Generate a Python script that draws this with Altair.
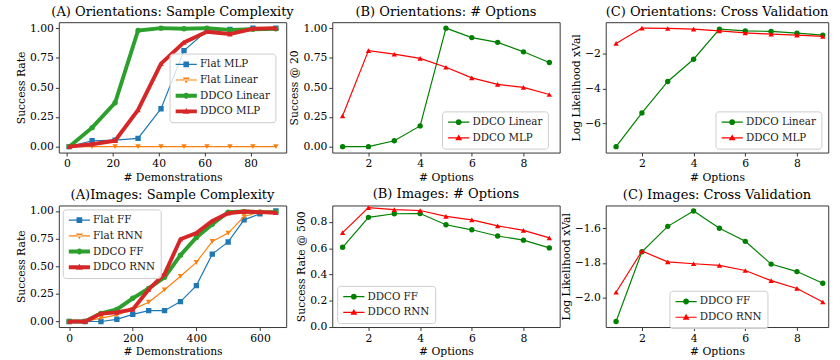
import altair as alt
import pandas as pd

FONT = "DejaVu Serif"

# ---------------- data ----------------
# (A) Orientations: sample complexity
demos_orient = [1, 11, 21, 31, 41, 51, 61, 71, 81, 91]
orient_flat_mlp = [0.0, 0.05, 0.055, 0.07, 0.32, 0.81, 0.98, 0.99, 1.0, 1.0]
orient_flat_linear = [0.0, 0.0, 0.0, 0.0, 0.0, 0.0, 0.0, 0.0, 0.0, 0.0]
orient_ddco_linear = [0.0, 0.16, 0.37, 0.98, 1.0, 0.995, 1.0, 0.985, 0.99, 0.995]
orient_ddco_mlp = [0.0, 0.02, 0.05, 0.31, 0.70, 0.88, 0.97, 0.95, 0.995, 1.0]

# (B)/(C) number of options
n_options = [1, 2, 3, 4, 5, 6, 7, 8, 9]
orient_opt_linear = [0.0, 0.0, 0.05, 0.175, 1.0, 0.92, 0.88, 0.80, 0.71]
orient_opt_mlp = [0.26, 0.81, 0.78, 0.745, 0.67, 0.58, 0.525, 0.50, 0.44]
orient_xval_linear = [-7.33, -5.39, -3.58, -2.30, -0.57, -0.67, -0.70, -0.80, -0.91]
orient_xval_mlp = [-1.39, -0.51, -0.53, -0.57, -0.67, -0.78, -0.86, -0.91, -0.99]

# (A) Images: sample complexity
demos_images = [0, 50, 100, 150, 200, 250, 300, 350, 400, 450, 500, 550, 600, 650]
img_flat_ff = [0.0, 0.0, 0.0, 0.02, 0.065, 0.098, 0.098, 0.18, 0.325, 0.61, 0.72, 0.92, 0.975, 1.0]
img_flat_rnn = [0.0, 0.0, 0.03, 0.06, 0.11, 0.175, 0.287, 0.41, 0.535, 0.725, 0.80, 0.95, 0.99, 0.985]
img_ddco_ff = [0.0, 0.0, 0.074, 0.11, 0.21, 0.30, 0.40, 0.60, 0.76, 0.88, 0.99, 0.995, 0.99, 0.99]
img_ddco_rnn = [0.0, 0.0, 0.072, 0.083, 0.11, 0.29, 0.43, 0.745, 0.80, 0.91, 0.98, 0.995, 0.99, 0.985]

img_opt_ff = [0.607, 0.835, 0.862, 0.864, 0.778, 0.74, 0.693, 0.661, 0.602]
img_opt_rnn = [0.718, 0.909, 0.894, 0.887, 0.842, 0.815, 0.77, 0.736, 0.679]
img_xval_ff = [-2.136, -1.735, -1.589, -1.501, -1.60, -1.675, -1.806, -1.849, -1.916]
img_xval_rnn = [-1.968, -1.731, -1.793, -1.804, -1.813, -1.843, -1.901, -1.946, -2.024]

# ---------------- styles ----------------
TAB_BLUE, TAB_ORANGE, TAB_GREEN, TAB_RED = "#1f77b4", "#ff7f0e", "#2ca02c", "#d62728"
GREEN, RED = "#008000", "#ff0000"

# legend glyph = filled line segment + marker (unit box: 1 unit = 6 px)
MARKER_PATH = {
    "circle": "M0.5,0A0.5,0.5,0,1,1,1.5,0A0.5,0.5,0,1,1,0.5,0Z",
    "triangle-up": "M1,-0.58L1.58,0.42L0.42,0.42Z",
    "triangle-down": "M1,0.58L1.58,-0.42L0.42,-0.42Z",
    "square": "M0.52,-0.48H1.48V0.48H0.52Z",
}


def legend_glyph(shape, line_px):
    hw = line_px / 12.0
    return f"M-0.8,{-hw:.3f}H2.8V{hw:.3f}H-0.8Z" + MARKER_PATH[shape]


def panel(title, xs, series, xdom, ydom, xticks, yticks, yfmt, xtitle, ytitle,
          w, h, lx, ly):
    xenc = alt.X("x:Q", scale=alt.Scale(domain=xdom, nice=False, zero=False),
                 axis=alt.Axis(values=xticks, title=xtitle, format="d"))
    yenc = alt.Y("y:Q", scale=alt.Scale(domain=ydom, nice=False, zero=False),
                 axis=alt.Axis(values=yticks, title=ytitle, format=yfmt))
    layers, frames = [], []
    names, colors, paths = [], [], []
    for name, vals, color, shape, sw in series:
        df = pd.DataFrame({"x": xs, "y": vals, "series": name})
        frames.append(df)
        names.append(name)
        colors.append(color)
        paths.append(legend_glyph(shape, sw))
        base = alt.Chart(df).encode(x=xenc, y=yenc)
        layers.append(base.mark_line(color=color, strokeWidth=sw, clip=True))
        layers.append(base.mark_point(shape=shape, filled=True, color=color,
                                      size=30, opacity=1, clip=True))
    leg = alt.Legend(title=None, orient="none", legendX=lx, legendY=ly,
                     fillColor="rgba(255,255,255,0.8)", strokeColor="#cccccc",
                     cornerRadius=3, padding=5, labelFont=FONT, labelFontSize=10.5,
                     labelFontWeight=400, labelColor="#1a1a1a",
                     symbolSize=144, symbolOpacity=1,
                     symbolStrokeWidth=0, labelOffset=14, rowPadding=4)
    legend_layer = alt.Chart(pd.concat(frames)).mark_point(
        filled=True, opacity=0, size=144).encode(
        x=xenc, y=yenc,
        fill=alt.Fill("series:N", scale=alt.Scale(domain=names, range=colors), legend=leg),
        shape=alt.Shape("series:N", scale=alt.Scale(domain=names, range=paths), legend=leg),
    )
    return alt.layer(*layers, legend_layer).properties(
        width=w, height=h, title=alt.Title(title))


W, WC = 232, 227
H_TOP, H_BOT = 133, 124
OPT_DOM = [0.6, 9.4]
OPT_DOM_C = [0.6, 0.6 + 8.8 * WC / W]
RATE_DOM = [-0.05, 1.05]
RATE_TICKS = [0, 0.25, 0.5, 0.75, 1.0]
OPT_TICKS = [2, 4, 6, 8]

a1 = panel("(A) Orientations: Sample Complexity", demos_orient, [
    ("Flat MLP", orient_flat_mlp, TAB_BLUE, "square", 1.2),
    ("Flat Linear", orient_flat_linear, TAB_ORANGE, "triangle-down", 1.2),
    ("DDCO Linear", orient_ddco_linear, TAB_GREEN, "circle", 4),
    ("DDCO MLP", orient_ddco_mlp, TAB_RED, "triangle-up", 4),
], [-3.5, 95.5], RATE_DOM, [0, 20, 40, 60, 80], RATE_TICKS, ".2f",
    "# Demonstrations", "Success Rate", W, H_TOP, 113, 32)

b1 = panel("(B) Orientations: # Options", n_options, [
    ("DDCO Linear", orient_opt_linear, GREEN, "circle", 1.2),
    ("DDCO MLP", orient_opt_mlp, RED, "triangle-up", 1.2),
], OPT_DOM, RATE_DOM, OPT_TICKS, RATE_TICKS, ".2f",
    "# Options", "Success @ 20", W, H_TOP, 112, 91)

c1 = panel("(C) Orientations: Cross Validation", n_options, [
    ("DDCO Linear", orient_xval_linear, GREEN, "circle", 1.2),
    ("DDCO MLP", orient_xval_mlp, RED, "triangle-up", 1.2),
], OPT_DOM_C, [-7.67, -0.17], OPT_TICKS, [-6, -4, -2], "d",
    "# Options", "Log Likelihood xVal", WC, H_TOP, 112, 91)

a2 = panel("(A)Images: Sample Complexity", demos_images, [
    ("Flat FF", img_flat_ff, TAB_BLUE, "square", 1.2),
    ("Flat RNN", img_flat_rnn, TAB_ORANGE, "triangle-down", 1.2),
    ("DDCO FF", img_ddco_ff, TAB_GREEN, "circle", 4),
    ("DDCO RNN", img_ddco_rnn, TAB_RED, "triangle-up", 4),
], [-32.5, 682.5], RATE_DOM, [0, 200, 400, 600], RATE_TICKS, ".2f",
    "# Demonstrations", "Success Rate", W, H_BOT, 4, 4)

b2 = panel("(B) Images: # Options", n_options, [
    ("DDCO FF", img_opt_ff, GREEN, "circle", 1.2),
    ("DDCO RNN", img_opt_rnn, RED, "triangle-up", 1.2),
], OPT_DOM, [0, 0.925], OPT_TICKS, [0, 0.2, 0.4, 0.6, 0.8], ".1f",
    "# Options", "Success Rate @ 500", W, H_BOT, 5, 82)

c2 = panel("(C) Images: Cross Validation", n_options, [
    ("DDCO FF", img_xval_ff, GREEN, "circle", 1.2),
    ("DDCO RNN", img_xval_rnn, RED, "triangle-up", 1.2),
], OPT_DOM_C, [-2.168, -1.469], OPT_TICKS, [-2.0, -1.8, -1.6], ".1f",
    "# Options", "Log Likelihood xVal", WC, H_BOT, 65, 87)

chart = alt.concat(
    a1, b1, c1, a2, b2, c2, columns=3,
    spacing=alt.RowColnumber(row=54, column=47), bounds="flush", align="each"
).resolve_scale(
    fill="independent", shape="independent"
).resolve_legend(
    fill="independent", shape="independent"
).properties(
    padding={"left": 15, "top": 1, "right": 0, "bottom": 0}
).configure(
    font=FONT
).configure_view(
    stroke="#333333", strokeWidth=1
).configure_axis(
    labelFont=FONT, titleFont=FONT, labelFontSize=11, titleFontSize=11,
    labelColor="black", titleColor="black", titleFontWeight="normal",
    tickColor="#333333", tickSize=3.5, labelPadding=2, titlePadding=3,
    grid=False, domain=False
).configure_legend(
    labelFont=FONT, labelFontSize=10.5, labelFontWeight=400, labelColor="#1a1a1a"
).configure_title(
    font=FONT, fontSize=13.3, fontWeight="normal", color="black", offset=4
)

chart.save("out.html", embed_options={"renderer": "svg", "actions": False})
